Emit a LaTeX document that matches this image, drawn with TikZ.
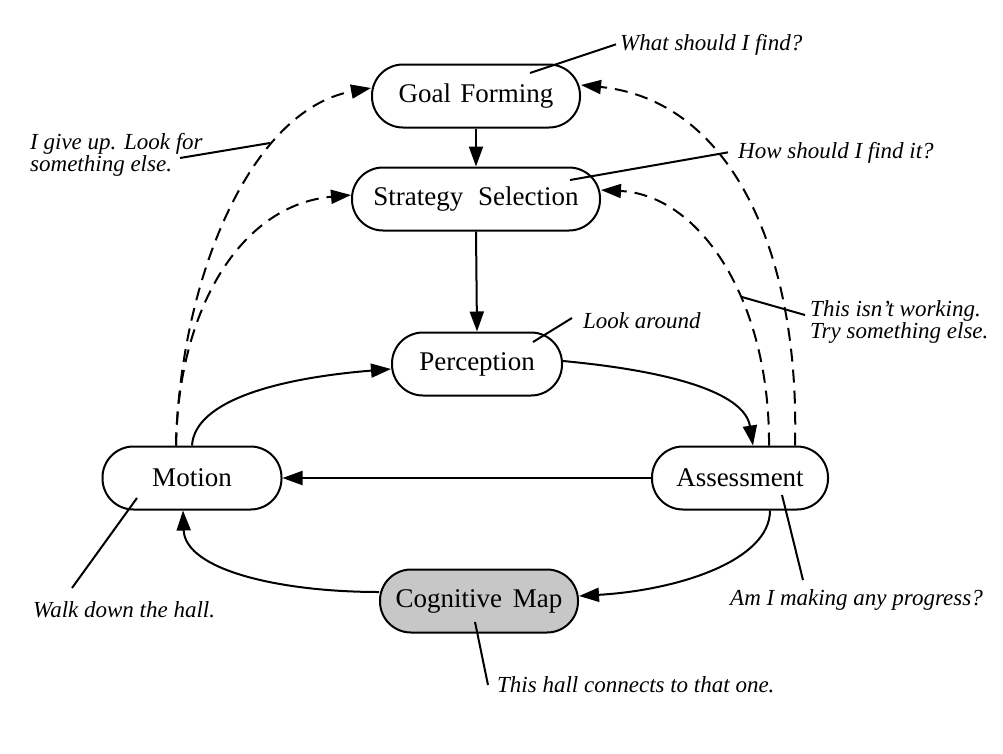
\documentclass[tikz,border=0pt]{standalone}
\usepackage{fontspec}
\setmainfont{Liberation Serif}
\usetikzlibrary{arrows.meta}
\begin{document}
\begin{tikzpicture}[x=1pt,y=-1pt,
  state/.style={draw, line width=2pt, rounded corners=31pt, minimum height=63pt, inner sep=0pt, font=\fontsize{27}{30}\selectfont},
  note/.style={font=\fontsize{23}{22}\itshape\selectfont, inner sep=0pt, align=left},
  link/.style={line width=2pt, -{Triangle[length=20pt,width=14pt]}},
  back/.style={link, dash pattern=on 13pt off 8pt},
  pointer/.style={line width=2pt}]
\useasboundingbox (0,0) rectangle (1003,753);

% states
\node[state, minimum width=208pt] (goal) at (476,96) {Goal\hspace{0.1em} Forming};
\node[state, minimum width=248pt] (strat) at (476,199) {Strategy\hspace{0.3em} Selection};
\node[state, minimum width=170pt] (perc) at (477,364) {Perception};
\node[state, minimum width=179pt] (mot) at (192,478) {Motion};
\node[state, minimum width=176pt] (assess) at (740,478) {Assessment};
\node[state, minimum width=198pt, fill=black!22] (cog) at (479,601) {Cognitive\hspace{0.15em} Map};

% notes
\node[note, anchor=north west] (giveup) at (30,133) {I give up. Look for\\something else.};
\node[note, anchor=north west] (notwork) at (810,300) {This isn't working.\\Try something else.};
\node[note, anchor=base west] (what) at (620,50) {What should I find?};
\node[note, anchor=base west] (how) at (738,158) {How should I find it?};
\node[note, anchor=base west] (look) at (583,328) {Look around};
\node[note, anchor=base west] (walk) at (33,617) {Walk down the hall.};
\node[note, anchor=base west] (prog) at (730,605) {Am I making any progress?};
\node[note, anchor=base west] (hall) at (497,692) {This hall connects to that one.};

% solid connectors
\draw[link] (goal.south) -- (strat.north);
\draw[link] (strat.south) -- (perc.north);
\draw[link] ([yshift=3pt]perc.east) .. controls (680,372) and (745,395) .. ([xshift=13pt]assess.north);
\draw[link] (assess.west) -- (mot.east);
\draw[link] (mot.north) .. controls (195,400) and (280,378) .. ([yshift=-5pt]perc.west);
\draw[link] ([xshift=30pt]assess.south) .. controls (770,560) and (680,590) .. ([yshift=5pt]cog.east);
\draw[link] ([yshift=9pt]cog.west) .. controls (280,592) and (185,570) .. ([xshift=-9pt]mot.south);

% dashed connectors
\draw[back] ([xshift=-16pt]mot.north) .. controls (180,280) and (250,110) .. ([yshift=8pt]goal.west);
\draw[back] ([xshift=-16pt]mot.north) .. controls (178,310) and (240,205) .. ([yshift=4pt]strat.west);
\draw[back] ([xshift=55pt]assess.north) .. controls (800,250) and (730,100) .. ([yshift=11pt]goal.east);
\draw[back] ([xshift=29pt]assess.north) .. controls (770,300) and (700,195) .. ([yshift=9pt]strat.east);

% pointer lines
\coordinate (pWhat) at (530,73);
\coordinate (pHow) at (570,180);
\coordinate (pGive) at (180,158);
\coordinate (pGiveEnd) at (270,143);
\coordinate (pWork) at (742,297);
\coordinate (pWorkEnd) at (805,315);
\coordinate (pLook) at (533,342);
\coordinate (pLookEnd) at (572,318);
\coordinate (pWalk) at (137,498);
\coordinate (pWalkEnd) at (72,588);
\coordinate (pProg) at (782,495);
\coordinate (pProgEnd) at (803,580);
\coordinate (pHall) at (475,622);
\coordinate (pHallEnd) at (488,685);
\draw[pointer] (pWhat) -- ([xshift=-4pt]what.west);
\draw[pointer] (pHow) -- ([xshift=-10pt]how.west);
\draw[pointer] (pGive) -- (pGiveEnd);
\draw[pointer] (pWork) -- (pWorkEnd);
\draw[pointer] (pLook) -- (pLookEnd);
\draw[pointer] (pWalk) -- (pWalkEnd);
\draw[pointer] (pProg) -- (pProgEnd);
\draw[pointer] (pHall) -- (pHallEnd);
\end{tikzpicture}
\end{document}
